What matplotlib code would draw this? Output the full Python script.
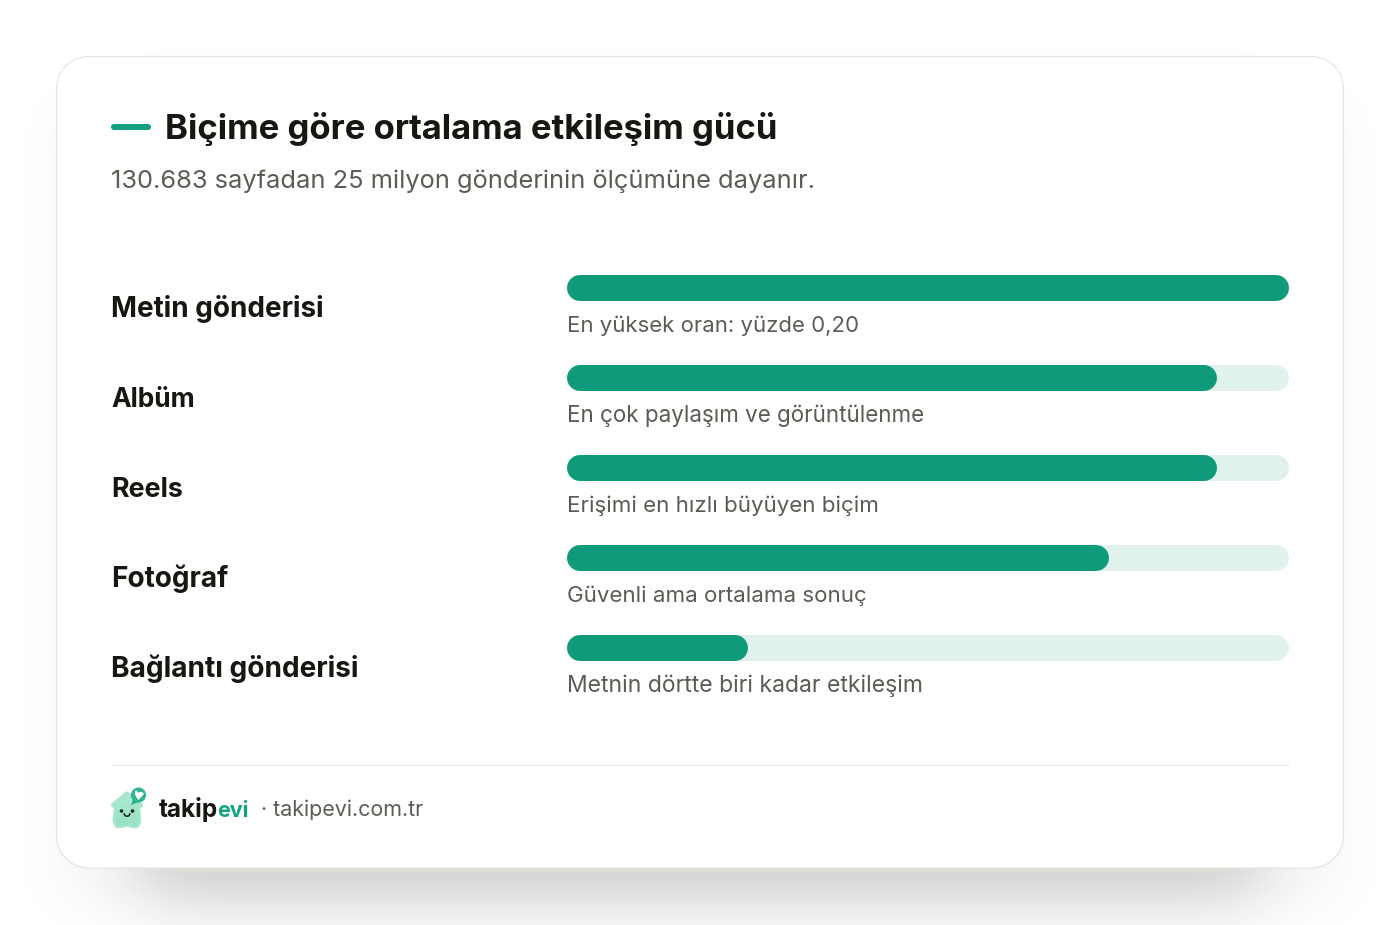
import numpy as np
import matplotlib
matplotlib.use("Agg")
from matplotlib import pyplot as plt
from matplotlib.colors import LinearSegmentedColormap
from matplotlib.patches import Circle, Polygon, PathPatch
from matplotlib.path import Path

title = "Biçime göre ortalama etkileşim gücü"
subtitle = "130.683 sayfadan 25 milyon gönderinin ölçümüne dayanır."
categories = ["Metin gönderisi", "Albüm", "Reels", "Fotoğraf", "Bağlantı gönderisi"]
values = [0.20, 0.18, 0.18, 0.15, 0.05]
notes = ["En yüksek oran: yüzde 0,20", "En çok paylaşım ve görüntülenme",
         "Erişimi en hızlı büyüyen biçim", "Güvenli ama ortalama sonuç",
         "Metnin dörtte biri kadar etkileşim"]
x_max = 0.20

GREEN = "#0f9b7a"
TRACK = "#e1f2ed"
DARK = "#171712"
GREY = "#5c5c55"
FONT = "Inter"

W, H = 1400, 925
fig = plt.figure(figsize=(W / 100, H / 100), dpi=100, facecolor="white")
bg = fig.add_axes([0, 0, 1, 1])
bg.set_xlim(0, W)
bg.set_ylim(H, 0)
bg.axis("off")


def fit_text(x, y, s, width, **kw):
    # scale the font so the string gets the same pixel width as the reference
    t = bg.text(x, y, s, family=FONT, va="baseline", **kw)
    w = t.get_window_extent(fig.canvas.get_renderer()).width
    t.set_fontsize(t.get_fontsize() * width / w)
    return t


def round_rect(x0, y0, x1, y1, r):
    # rounded rectangle with true circular corners
    k = r * 0.5523
    verts = [(x0 + r, y0), (x1 - r, y0), (x1 - r + k, y0), (x1, y0 + r - k), (x1, y0 + r),
             (x1, y1 - r), (x1, y1 - r + k), (x1 - r + k, y1), (x1 - r, y1),
             (x0 + r, y1), (x0 + r - k, y1), (x0, y1 - r + k), (x0, y1 - r),
             (x0, y0 + r), (x0, y0 + r - k), (x0 + r - k, y0), (x0 + r, y0)]
    codes = [Path.MOVETO, Path.LINETO, Path.CURVE4, Path.CURVE4, Path.CURVE4,
             Path.LINETO, Path.CURVE4, Path.CURVE4, Path.CURVE4,
             Path.LINETO, Path.CURVE4, Path.CURVE4, Path.CURVE4,
             Path.LINETO, Path.CURVE4, Path.CURVE4, Path.CURVE4]
    return Path(verts, codes)


# shadow under the card
def soft(n, a, b, sigma):
    box = ((np.arange(n) >= a) & (np.arange(n) < b)).astype(float)
    k = np.exp(-0.5 * (np.arange(-200, 201) / sigma) ** 2)
    return np.convolve(np.pad(box, 200, mode="edge"), k / k.sum(), mode="same")[200:-200]


shadow = np.outer(soft(H, 120, 898, 35), soft(W, 140, 1260, 35)) * 0.18
shadow += np.outer(soft(H, 110, 900, 30), soft(W, 57, 1343, 30)) * 0.035
bg.imshow(1 - shadow, cmap="gray", vmin=0, vmax=1, extent=(0, W, H, 0), aspect="auto", zorder=0)

# band peeking out under the card and the card itself
bg.add_patch(PathPatch(round_rect(154, 800, 1246, 872.5, 32), fc="#e0dfd6", ec="none", zorder=1))
bg.add_patch(PathPatch(round_rect(56.5, 56.5, 1343.5, 868, 32), fc="white", ec="#e4e3dc", lw=0.8, zorder=2))

# header
bg.add_patch(PathPatch(round_rect(111, 124, 151, 130, 3), fc="#12a07e", ec="none", zorder=3))
fit_text(165, 139, title, 614, fontsize=30, fontweight="bold", color=DARK, zorder=3)
fit_text(111, 188, subtitle, 703, fontsize=20, color=GREY, zorder=3)

# bars, value axis runs from 0 to the highest rate
row = 90
bar_h = 26
ax = fig.add_axes([567 / W, 1 - 661 / H, 722 / W, 386 / H], zorder=3)
ax.set_xlim(0, x_max)
ax.set_ylim(len(values) - 1 + bar_h / 2 / row, -bar_h / 2 / row)
ax.axis("off")
r = (bar_h / 2) * x_max / 722
lw_pt = bar_h * 72 / 100
for i, v in enumerate(values):
    ax.plot([r, x_max - r], [i, i], color=TRACK, lw=lw_pt, solid_capstyle="round")
    ax.plot([r, v - r], [i, i], color=GREEN, lw=lw_pt, solid_capstyle="round")

label_w = [212, 84, 72, 117, 247]
note_w = [291, 356, 310, 298, 355]
for i, (c, n) in enumerate(zip(categories, notes)):
    fit_text(111, 317 + row * i, c, label_w[i], fontsize=22, fontweight="bold", color=DARK, zorder=3)
    fit_text(567, 332 + row * i, n, note_w[i], fontsize=18, color=GREY, zorder=3)

# footer
bg.plot([111, 1289], [765, 765], color="#e8e8e2", lw=0.8, solid_capstyle="butt", zorder=3)
fit_text(159, 817, "takip", 59.5, fontsize=18, fontweight="bold", color=DARK, zorder=3)
fit_text(217.5, 817, "evi", 31.5, fontsize=18, fontweight="bold", color="#12a37f", zorder=3)
fit_text(261, 816, "· takipevi.com.tr", 163, fontsize=16, color=GREY, zorder=3)

# logo
house = Polygon([(127, 794), (113.5, 805), (116.5, 807), (115, 821), (117, 825.5), (122, 825.5), (125, 824.5),
                 (129, 824.5), (132, 825.5), (137, 825.5), (139, 821), (137.5, 807), (140.5, 805)], closed=True,
                fc="#a6e7cc", ec="#a6e7cc", lw=3.6, joinstyle="round", zorder=4)
bg.add_patch(house)
grad = np.linspace(0, 1, 40)[:, None]
im = bg.imshow(grad, cmap=LinearSegmentedColormap.from_list("m", ["#b0ebd2", "#97e1c2"]),
               extent=(108, 146, 828, 790), aspect="auto", zorder=4.5)
im.set_clip_path(house)
bg.set_xlim(0, W)
bg.set_ylim(H, 0)
bg.add_patch(Polygon([(133, 799), (131, 805), (139, 802)], fc="#2fb393", ec="none", zorder=5))
bg.add_patch(Circle((138.5, 795), 7.5, fc="#2fb393", ec="none", zorder=5))
bg.add_patch(PathPatch(Path([(138.5, 800), (133, 794), (136, 790), (138.5, 793), (141, 790), (144, 794), (138.5, 800)],
                            [Path.MOVETO, Path.CURVE3, Path.CURVE3, Path.LINETO, Path.CURVE3, Path.CURVE3, Path.LINETO]),
                       fc="white", ec="none", zorder=6))
bg.add_patch(Circle((121.5, 811), 1.8, fc="#1d2b26", ec="none", zorder=6))
bg.add_patch(Circle((132.5, 811), 1.8, fc="#1d2b26", ec="none", zorder=6))
s = np.linspace(0, np.pi, 12)
bg.plot(127 + 2.7 * np.cos(s), 814 + 2.2 * np.sin(s), color="#1d2b26", lw=1.2, zorder=6)

fig.savefig("out.png", dpi=100)
